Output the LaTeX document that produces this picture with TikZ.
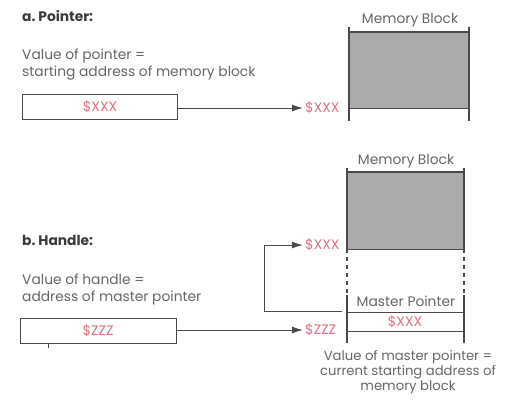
\documentclass[tikz,border=0pt]{standalone}
\usepackage{fontspec}
\setmainfont{Poppins}
\usetikzlibrary{arrows.meta}
\definecolor{ink}{HTML}{3A3A3A}
\definecolor{body}{HTML}{666666}
\definecolor{strich}{HTML}{4A4A4A}
\definecolor{wertrot}{HTML}{E0707E}
\definecolor{raster}{HTML}{ABABAB}
\newcommand\tf{\fontsize{13.8}{16.5}\selectfont}
\newcommand\kopf[4]{\node[anchor=base west,inner sep=0,font=\tf\bfseries,text=ink] (#1) at (#2,#3) {#4};}

\begin{document}
\begin{tikzpicture}[x=1pt,y=-1pt]
\useasboundingbox (0,0) rectangle (508,399);
\tikzset{zelle/.style={draw=strich,line width=1pt,minimum height=25pt,inner sep=0,
    font=\tf,text=wertrot},
  wert/.style={anchor=west,inner sep=0,font=\tf,text=wertrot},
  erkl/.style={anchor=base west,inner sep=0,font=\tf,text=body,align=left},
  pfeil/.style={strich,line width=1pt,-{Latex[length=11pt,width=7pt]}},
  kante/.style={strich,line width=1.6pt},
  fein/.style={strich,line width=1pt}}

% ---- a. Pointer ----------------------------------------------------------------
\kopf{na}{22}{21}{a.\hspace{3pt}Pointer:}
% mehrzeilig: base = Grundlinie der letzten Zeile
\node[erkl] (erkla) at (22,76) {Value of pointer =\\starting address of memory block};
\node[zelle,minimum width=155pt] (ptrbox) at (100,107) {\$XXX};
\node[wert] (ptrziel) at (305,108) {\$XXX};
\draw[pfeil] (ptrbox.east |- ptrziel) -- ([xshift=-2pt]ptrziel.west);
% Speicherblock: gerastert, Seitenlinien etwas länger als das Raster
\fill[raster] (349,32) rectangle (469,108);
\draw[kante] (349,27) -- (349,121) (469,27) -- (469,121) (349,32) -- (469,32);
\draw[fein] (349,108) -- (469,108);
\node[anchor=base,inner sep=0,font=\tf,text=body] (blocka) at (410,23) {Memory Block};

% ---- b. Handle -----------------------------------------------------------------
\kopf{nb}{22}{245}{b.\hspace{3pt}Handle:}
\node[erkl] (erklb) at (22,301) {Value of handle =\\address of master pointer};
\node[zelle,minimum width=156pt] (hdlbox) at (98,331) {\$ZZZ};
\draw[fein] (48,343) -- (48,348);
\node[wert] (hdlziel) at (305,330) {\$ZZZ};
\draw[pfeil] (hdlbox.east |- hdlziel) -- ([xshift=-2pt]hdlziel.west);
% Speicherblock oben, gestrichelt bis zum Master Pointer
\fill[raster] (347,172) rectangle (464,249);
\draw[kante] (347,168) -- (347,253) (464,168) -- (464,253) (347,172) -- (464,172)
  (347,295) -- (347,343) (464,295) -- (464,343);
\draw[kante,dash pattern=on 4pt off 4pt] (347,257) -- (347,295) (464,257) -- (464,295);
\draw[fein] (347,249) -- (464,249);
\node[anchor=base,inner sep=0,font=\tf,text=body] (blockb) at (406,164) {Memory Block};
\node[wert] (mpziel) at (305,245) {\$XXX};
% Master Pointer: Zelle zwischen zwei Linien
\node[anchor=base,inner sep=0,font=\tf,text=body] (mptitel) at (406,306) {Master Pointer};
\draw[fein] (347,312) -- (464,312) (347,331) -- (464,331);
\node[inner sep=0,font=\tf,text=wertrot] (mpwert) at (405,322) {\$XXX};
\coordinate (mplinks) at (342,311);
\draw[pfeil] (mplinks) -- (264,311) |- ([xshift=-2pt]mpziel.west);
\node[anchor=base,inner sep=0,font=\fontsize{13.2}{15}\selectfont,text=body,align=center]
  (erklmp) at (408,390) {Value of master pointer =\\current starting address of\\memory block};
\end{tikzpicture}
\end{document}
